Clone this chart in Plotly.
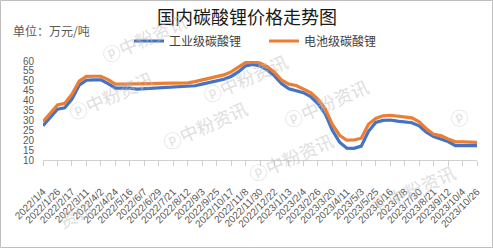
import plotly.graph_objects as go

dates = ["2022-01-04","2022-01-15","2022-01-26","2022-02-06","2022-02-17","2022-02-28","2022-03-11","2022-03-22",
         "2022-04-02","2022-04-13","2022-04-24","2022-05-05","2022-05-16","2022-05-27","2022-06-07","2022-06-18",
         "2022-06-29","2022-07-10","2022-07-21","2022-08-01","2022-08-12","2022-08-23","2022-09-03","2022-09-14",
         "2022-09-25","2022-10-06","2022-10-17","2022-10-28","2022-11-08","2022-11-19","2022-11-30","2022-12-11",
         "2022-12-22","2023-01-02","2023-01-13","2023-01-24","2023-02-04","2023-02-15","2023-02-26","2023-03-09",
         "2023-03-20","2023-03-31","2023-04-11","2023-04-22","2023-05-03","2023-05-14","2023-05-25","2023-06-05",
         "2023-06-16","2023-06-27","2023-07-08","2023-07-19","2023-07-30","2023-08-10","2023-08-21","2023-09-01",
         "2023-09-12","2023-09-23","2023-10-04","2023-10-15","2023-10-26"]

industrial = [27.3,31.2,35.7,36.4,40.8,47.8,50.3,50.5,50.5,48.6,46.3,46.3,46.3,45.8,46.0,46.2,
              46.4,46.5,46.6,46.7,46.9,47.5,48.3,49.2,50.0,50.8,52.2,54.5,57.5,58.3,57.5,55.5,
              52.5,48.5,46.0,45.2,44.0,42.0,38.5,33.5,25.0,19.0,16.0,15.9,17.0,24.5,29.0,30.0,
              30.2,29.6,29.3,28.8,27.3,24.0,21.8,20.6,19.3,17.3,17.3,17.5,17.3]

battery = [29.3,33.8,37.8,38.6,43.2,49.8,52.2,52.3,52.3,50.6,48.3,48.3,48.3,48.3,48.5,48.6,
           48.7,48.8,48.8,48.9,49.0,49.6,50.5,51.6,52.2,53.0,54.5,56.7,59.2,59.5,59.0,57.2,
           54.3,50.3,48.3,47.6,46.0,44.0,40.8,36.0,28.0,22.5,20.0,20.1,21.0,28.0,31.0,32.3,
           32.6,32.1,31.9,31.3,29.3,25.8,23.0,22.3,20.6,19.2,19.2,19.2,18.9]

tick_dates = ["2022-01-04","2022-01-26","2022-02-17","2022-03-11","2022-04-02","2022-04-24","2022-05-16",
              "2022-06-07","2022-06-29","2022-07-21","2022-08-12","2022-09-03","2022-09-25","2022-10-17",
              "2022-11-08","2022-11-30","2022-12-22","2023-01-13","2023-02-04","2023-02-26","2023-03-20",
              "2023-04-11","2023-05-03","2023-05-25","2023-06-16","2023-07-08","2023-07-30","2023-08-21",
              "2023-09-12","2023-10-04","2023-10-26"]
tick_text = ["2022/1/4","2022/1/26","2022/2/17","2022/3/11","2022/4/2","2022/4/24","2022/5/16",
             "2022/6/7","2022/6/29","2022/7/21","2022/8/12","2022/9/3","2022/9/25","2022/10/17",
             "2022/11/8","2022/11/30","2022/12/22","2023/1/13","2023/2/4","2023/2/26","2023/3/20",
             "2023/4/11","2023/5/3","2023/5/25","2023/6/16","2023/7/8","2023/7/30","2023/8/21",
             "2023/9/12","2023/10/4","2023/10/26"]
y_ticks = [10, 15, 20, 25, 30, 35, 40, 45, 50, 55, 60]

CJK = "Noto Sans CJK SC"
W, H = 493, 248
L, R, T, B = 43, 16, 61, 88
pw, ph = W - L - R, H - T - B


def px2paper(px, py):
    return (px - L) / pw, (H - B - py) / ph


fig = go.Figure()

# watermarks (centres in pixels)
wm = [(95, 5, "\u24df中粉资讯"), (62, 128, "\u24df中粉资讯"), (245, 45, "\u24df中粉资讯"),
      (205, 158, "\u24df中粉资讯"), (375, 70, "\u24df中粉资讯"), (340, 190, "\u24df中粉资讯"),
      (462, 222, "\u24df中粉资讯"), (475, 117, "\u24df"), (52, 236, "资讯")]
for (cx, cy, t) in wm:
    x, y = px2paper(cx, cy)
    fig.add_annotation(xref="paper", yref="paper", x=x, y=y,
                       text=t, showarrow=False, textangle=-24,
                       font=dict(family=CJK, size=18, color="rgba(190,190,190,0.5)"))

fig.add_trace(go.Scatter(x=dates, y=industrial, mode="lines", name="工业级碳酸锂",
                         line=dict(color="#4472C4", width=3.2)))
fig.add_trace(go.Scatter(x=dates, y=battery, mode="lines", name="电池级碳酸锂",
                         line=dict(color="#ED7D31", width=3.2)))

fig.update_layout(
    width=W, height=H,
    margin=dict(l=L, r=R, t=T, b=B, autoexpand=False),
    paper_bgcolor="white", plot_bgcolor="white",
    showlegend=True,
    legend=dict(orientation="h", xref="container", yref="container", x=129 / W, y=(H - 41) / H,
                xanchor="left", yanchor="middle", font=dict(family=CJK, size=12, color="#404040"),
                itemwidth=30, entrywidth=90, entrywidthmode="pixels",
                bgcolor="rgba(0,0,0,0)", tracegroupgap=0),
    title=dict(text="国内碳酸锂价格走势图", x=247 / W, xref="container", y=(H - 18) / H, yref="container",
               xanchor="center", yanchor="middle", font=dict(family=CJK, size=18, color="#1a1a1a")),
    xaxis=dict(type="date", range=["2022-01-04", "2023-10-26"], tickvals=tick_dates, ticktext=tick_text,
               tickangle=-45, showgrid=False, showline=True, linecolor="#d0d0d0", linewidth=1,
               ticks="outside", ticklen=5, tickcolor="#d0d0d0", automargin=False,
               ticklabelstandoff=16,
               tickfont=dict(family="Liberation Sans", size=10, color="#595959"), zeroline=False),
    yaxis=dict(range=[10, 60], tickvals=y_ticks, showgrid=False, showline=False, zeroline=False,
               ticks="", automargin=False, ticklabelstandoff=8,
               tickfont=dict(family="Liberation Sans", size=10, color="#595959")),
)

x, y = px2paper(11, 30)
fig.add_annotation(xref="paper", yref="paper", x=x, y=y,
                   xanchor="left", yanchor="middle", showarrow=False, text="单位：万元/吨",
                   font=dict(family=CJK, size=12, color="#595959"))

# outer border
fig.add_shape(type="rect", xref="paper", yref="paper",
              x0=(0.5 - L) / pw, x1=(W - 0.5 - L) / pw,
              y0=(-(B - 0.5)) / ph, y1=(H - B - 0.5) / ph,
              line=dict(color="#bfbfbf", width=1), fillcolor="rgba(0,0,0,0)", layer="below")

fig.write_html("out.html")
